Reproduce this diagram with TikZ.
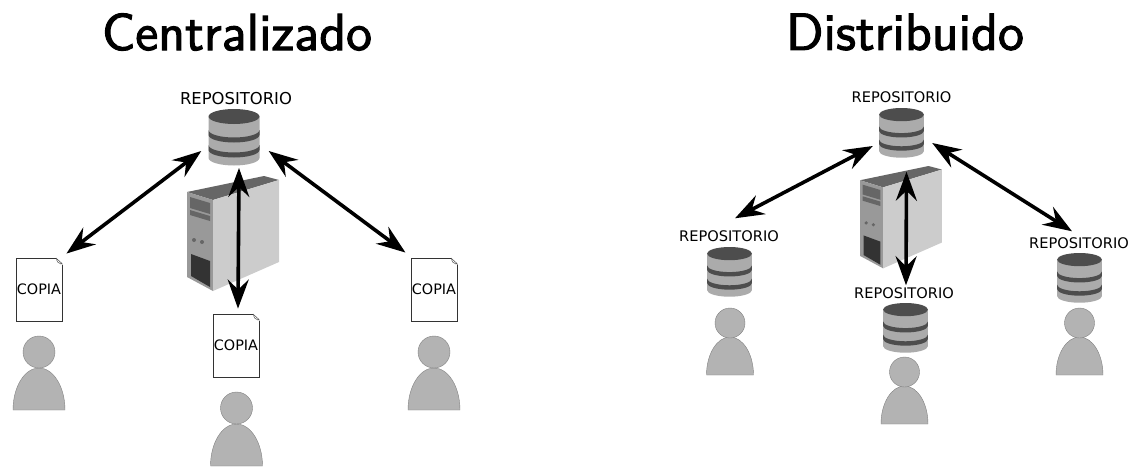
\documentclass[tikz,border=0pt]{standalone}
\usepackage{fontspec}
\setmainfont{DejaVu Sans}
\newfontfamily\ttlfont[FakeBold=2]{lmsans10-regular.otf}
\usetikzlibrary{arrows.meta}
\definecolor{pgray}{HTML}{B3B3B3}
\definecolor{dbdark}{HTML}{4D4D4D}
\definecolor{dbbody}{HTML}{ABABAB}
\definecolor{srvtop}{HTML}{666666}
\definecolor{srvfront}{HTML}{999999}
\definecolor{srvside}{HTML}{CCCCCC}
\definecolor{srvdark}{HTML}{333333}
\tikzset{
  x=1pt,y=-1pt,
  link/.style={line width=3.6pt,black,{Stealth[length=29pt,width=21pt,inset=10pt]}-{Stealth[length=29pt,width=21pt,inset=10pt]}},
  titletext/.style={font=\ttlfont\fontsize{52}{52}\selectfont,inner sep=0pt,text=black},
  bigrepo/.style={font=\fontsize{16.4}{16.4}\selectfont,inner sep=0pt},
  smallrepo/.style={font=\fontsize{14.6}{15}\selectfont,inner sep=0pt},
  docbox/.style={draw=black!80,line width=0.9pt,fill=white,minimum width=46pt,minimum height=63pt,inner sep=0pt,font=\fontsize{14.4}{14}\selectfont},
  dbbox/.style={inner sep=0pt,minimum width=#1pt,minimum height=#1pt*1.09},
  persona/.style={fill=pgray,draw=gray,line width=0.4pt},
}
\newcommand{\dbicon}[3]{%
\begin{scope}[shift={(#1,#2)},xscale=#3,yscale=#3]
  \fill[dbbody] (-25.5,7.5) -- (-25.5,49) arc[x radius=25.5,y radius=7.5,start angle=180,end angle=0] -- (25.5,7.5) -- cycle;
  \fill[dbdark] (-25.5,21) arc[x radius=25.5,y radius=7.5,start angle=180,end angle=0] -- (25.5,26) arc[x radius=25.5,y radius=7.5,start angle=0,end angle=180] -- cycle;
  \fill[dbdark] (-25.5,36) arc[x radius=25.5,y radius=7.5,start angle=180,end angle=0] -- (25.5,41) arc[x radius=25.5,y radius=7.5,start angle=0,end angle=180] -- cycle;
  \fill[dbdark] (0,7.5) ellipse[x radius=25.5,y radius=7.5];
\end{scope}}
\newcommand{\srvicon}[3]{%
\begin{scope}[shift={(#1,#2)},xscale=#3,yscale=#3]
  \fill[srvtop] (0,16) -- (77,0) -- (92,4) -- (26,24) -- cycle;
  \fill[srvfront] (0,16) -- (26,24) -- (26,115) -- (0,101) -- cycle;
  \fill[srvside] (26,24) -- (92,4) -- (92,86) -- (26,115) -- cycle;
  \fill[srvtop] (3,21) -- (23,27) -- (23,38) -- (3,32) -- cycle;
  \fill[srvtop] (3,34) -- (23,40) -- (23,45) -- (3,39) -- cycle;
  \fill[srvtop] (7,64) circle[radius=2];
  \fill[srvtop] (15,66) circle[radius=2];
  \fill[srvdark] (4,78) -- (23,85) -- (23,111) -- (4,100) -- cycle;
\end{scope}}
\newcommand{\personicon}[6]{%
  \draw[persona] (#1-#5,#4) arc[x radius=#5,y radius=#4-#3,start angle=180,end angle=360] -- cycle;
  \draw[persona] (#1,#2) circle[radius=#6];
}
\newcommand{\dogear}[2]{%
  \fill[white] (#1-6,#2) -- (#1+1,#2) -- (#1+1,#2+7) -- cycle;
  \draw[black!70,line width=0.5pt,fill=white] (#1-5.5,#2+.5) -- (#1,#2+5.5) -- (#1-1,#2+6) .. controls (#1-4,#2+5) and (#1-5,#2+4) .. (#1-5.5,#2+.5) -- cycle;
}
\begin{document}
\begin{tikzpicture}
\useasboundingbox (0,0) rectangle (1130,466);
\node[titletext] (t1) at (237,32) {Centralizado};
\node[titletext] (t2) at (905,32) {Distribuido};
\srvicon{187}{176}{1}
\dbicon{234}{109}{1}
\node[dbbox=51] (cdb) at (234,137) {};
\node[bigrepo] (clab) at (236,99) {REPOSITORIO};
\node[docbox] (d1) at (39,289.5) {COPIA}; \dogear{62}{258}
\node[docbox] (d2) at (236,345.5) {COPIA}; \dogear{259}{314}
\node[docbox] (d3) at (434,289.5) {COPIA}; \dogear{457}{258}
\personicon{39}{352}{368}{410}{26}{16}
\personicon{236.5}{408}{424}{466}{26}{16}
\personicon{434}{352}{368}{410}{26}{16}
\draw[link] ([shift={(-7,-14)}]cdb.south west) -- ([shift={(4,-4)}]d1.north east);
\draw[link] ([shift={(5,3)}]cdb.south) -- ([shift={(2,-5)}]d2.north);
\draw[link] ([shift={(9,-14)}]cdb.south east) -- ([shift={(-52,-5)}]d3.north east);
\srvicon{860}{166}{0.89}
\dbicon{901.5}{108}{0.88}
\node[dbbox=45] (rdb) at (901.5,132) {};
\node[smallrepo] (rlab) at (901.5,97) {REPOSITORIO};
\node[smallrepo] (lab1) at (729,236) {REPOSITORIO};
\node[smallrepo] (lab2) at (904,293) {REPOSITORIO};
\node[smallrepo] (lab3) at (1079,243) {REPOSITORIO};
\dbicon{729.5}{247}{0.88}
\dbicon{905.5}{303}{0.88}
\dbicon{1079.5}{253}{0.88}
\personicon{730}{323}{337}{375}{23.5}{15}
\personicon{904.5}{372}{386}{424}{23.5}{15}
\personicon{1079.5}{323}{337}{375}{23.5}{15}
\draw[link] (rdb.west) ++(-6,14) coordinate (ra) (lab1.north) ++(6,-12) coordinate (rb) (ra) -- (rb);
\draw[link] ([yshift=-8pt]rdb.south) ++(5,7) coordinate (rc) (lab2.north) ++(2,-2) coordinate (rd) (rc) -- (rd);
\draw[link] (rdb.east) ++(8,11) coordinate (re) (lab3.north) ++(-7,-6) coordinate (rf) (re) -- (rf);
\end{tikzpicture}
\end{document}
